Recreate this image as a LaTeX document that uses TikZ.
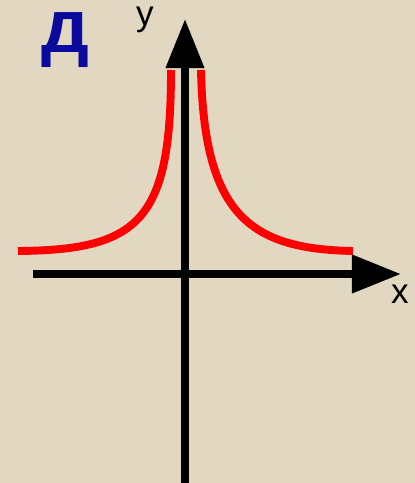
\documentclass[tikz,border=0pt]{standalone}
\usepackage{fontspec}
\setmainfont{Liberation Sans}
\usetikzlibrary{arrows.meta}
\definecolor{paper}{HTML}{E2D8C2}
\definecolor{curve}{HTML}{FF0000}
\definecolor{letter}{HTML}{0A0A9C}
\tikzset{
  axis/.style={black,line width=4.5pt,-{Triangle[length=28pt,width=21pt]}},
  branch/.style={curve,line width=4.5pt},
}

\begin{document}
\begin{tikzpicture}[x=0.02cm,y=-0.02cm]
  % background
  \fill[paper] (0,0) rectangle (415,483);
  \useasboundingbox (0,0) rectangle (415,483);

  % axes
  \coordinate (xstart) at (33,274);
  \coordinate (xend) at (401,274);
  \coordinate (ystart) at (185,483);
  \coordinate (yend) at (185,19);

  % curve, two branches
  \draw[branch] (171,70) .. controls (171,220) and (140,250) .. (18,251);
  \draw[branch] (201,70) .. controls (204,215) and (250,249) .. (353,251);

  \draw[axis] (xstart) -- (xend);
  \draw[axis] (ystart) -- (yend);

  % labels
  \node[font=\fontsize{43}{43}\selectfont\bfseries,letter,anchor=base,inner sep=0] (name) at (65,53) {д};
  \node[font=\fontsize{20}{20}\selectfont,anchor=base,inner sep=0] (ylabel) at (145,26) {y};
  \node[font=\fontsize{20}{20}\selectfont,anchor=base,inner sep=0] (xlabel) at (400,303) {x};
\end{tikzpicture}
\end{document}
